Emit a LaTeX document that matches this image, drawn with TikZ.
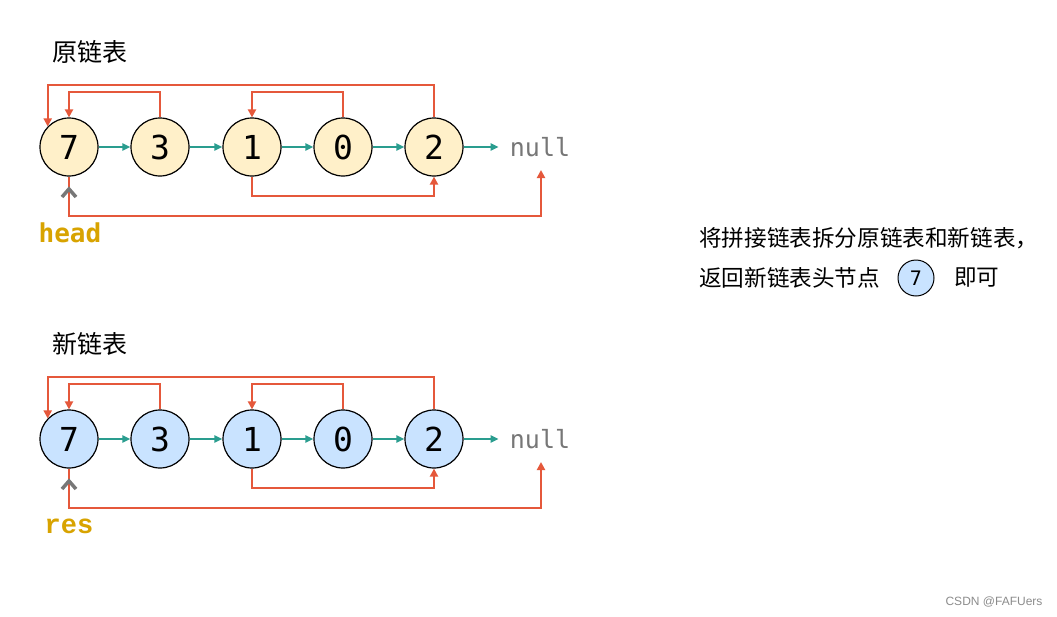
\documentclass[tikz,border=0pt]{standalone}
\usepackage{fontspec}
\setmainfont{DejaVu Sans}
\newfontfamily\cjk{Noto Sans CJK SC}
\newfontfamily\mono{DejaVu Sans Mono}
\newfontfamily\cour{Liberation Mono}
\newfontfamily\wmfont{Liberation Sans}
\usetikzlibrary{arrows.meta,calc}
\definecolor{nodeY}{HTML}{FFF0C9}
\definecolor{nodeB}{HTML}{C9E3FF}
\definecolor{arrT}{HTML}{2A9D8F}
\definecolor{arrR}{HTML}{E5583B}
\definecolor{lblgold}{HTML}{D8A300}
\definecolor{ptrgray}{HTML}{777777}
\tikzset{
  lnode/.style={circle, draw=black, line width=1.2pt, minimum size=58pt, inner sep=0pt, font=\mono\fontsize{33}{33}\selectfont},
  nullnode/.style={inner xsep=11pt, inner ysep=0pt, text=ptrgray, font=\mono\fontsize{25}{25}\selectfont},
  nxt/.style={arrT, line width=2pt, -{Triangle[length=8pt,width=7pt]}},
  back/.style={arrR, line width=2pt, -{Triangle[length=8pt,width=8pt]}},
  ptr/.style={ptrgray, line width=3.5pt, line join=miter},
  cjktitle/.style={font=\cjk\fontsize{25}{25}\selectfont},
  cjktext/.style={anchor=west, inner sep=0pt, font=\cjk\fontsize{22.6}{22.6}\selectfont},
}
\newcommand\listrow[3]{%
  \foreach \v/\x [count=\i] in {7/69,3/160,1/252,0/343,2/434}
    \node[lnode, fill=#3] (#1\i) at (\x,147+#2) {\v};
  \node[nullnode] (#1null) at (540,147+#2) {null};
  \coordinate (#1nullin) at (541,170+#2);
  \draw[nxt] (#11) -- (#12);
  \draw[nxt] (#12) -- (#13);
  \draw[nxt] (#13) -- (#14);
  \draw[nxt] (#14) -- (#15);
  \draw[nxt] (#15) -- (#1null);
  \draw[back] (#15.north) -- ++(0,-32) -| (#11.136);
  \draw[back] (#12.north) -- ++(0,-25) -| (#11.north);
  \draw[back] (#14.north) -- ++(0,-25) -| (#13.north);
  \draw[back] (#13.south) -- ++(0,19) -| (#15.south);
  \draw[back] (#11.south) -- ++(0,39) -| (#1nullin);
  \draw[ptr] (62,197+#2) -- (69,189+#2) -- (76,197+#2);
}
\begin{document}
\begin{tikzpicture}[x=1pt,y=-1pt]
  \fill[white] (0,0) rectangle (1057,616);
  \useasboundingbox (0,0) rectangle (1057,616);
  \node[cjktitle] (t1) at (90,52) {原链表};
  \node[cjktitle] (t2) at (90,344) {新链表};
  \listrow{a}{0}{nodeY}
  \listrow{b}{292}{nodeB}
  \node[text=lblgold, font=\mono\bfseries\fontsize{26}{26}\selectfont] (head) at (70,233) {head};
  \node[text=lblgold, font=\cour\bfseries\fontsize{27}{27}\selectfont] (res) at (69,526) {res};
  \node[cjktext] (l1) at (699,238) {将拼接链表拆分原链表和新链表，};
  \node[cjktext] (l2) at (699,278) {返回新链表头节点};
  \node[circle, draw=black, line width=1pt, fill=nodeB, minimum size=36pt, inner sep=0pt, font=\mono\fontsize{20}{20}\selectfont] (c7) at (916,278) {7};
  \node[cjktext] (l3) at (954,278) {即可};
  \node[text=black!45, font=\wmfont\fontsize{12}{12}\selectfont] (wm) at (994,602) {CSDN @FAFUers};
\end{tikzpicture}
\end{document}
